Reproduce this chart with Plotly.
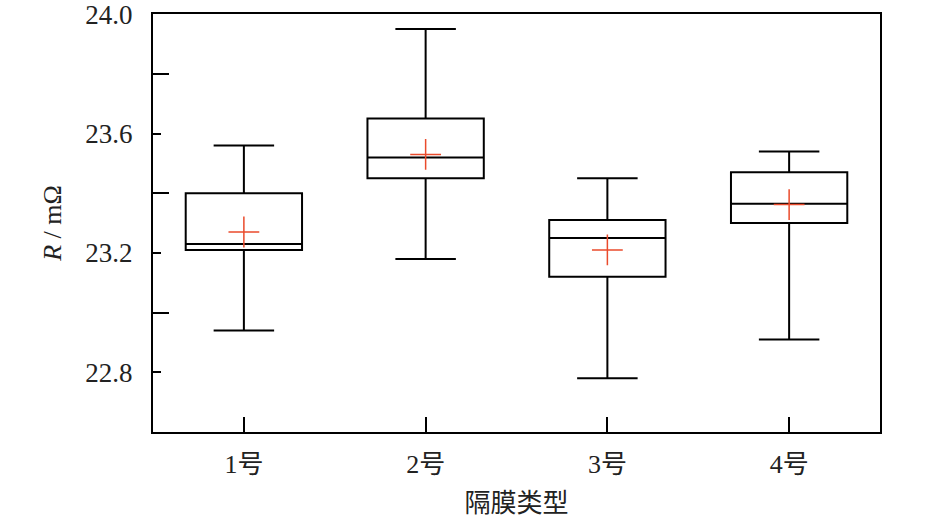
import plotly.graph_objects as go

categories = ["1号", "2号", "3号", "4号"]
upper = [23.56, 23.95, 23.45, 23.54]
q3 = [23.40, 23.65, 23.31, 23.47]
median = [23.23, 23.52, 23.25, 23.365]
q1 = [23.21, 23.45, 23.12, 23.30]
lower = [22.94, 23.18, 22.78, 22.91]
mean = [23.27, 23.53, 23.21, 23.362]

FONT = "'Liberation Serif', 'Noto Sans CJK SC', serif"

fig = go.Figure()
fig.add_trace(go.Box(
    x=categories, q1=q1, median=median, q3=q3,
    lowerfence=lower, upperfence=upper,
    width=0.64, whiskerwidth=0.52,
    line=dict(color="black", width=2),
    fillcolor="rgba(255,255,255,0)",
    boxpoints=False, showlegend=False, hoverinfo="skip",
))
fig.add_trace(go.Scatter(
    x=categories, y=mean, mode="markers",
    marker=dict(symbol="cross-thin", size=22,
                line=dict(color="#ea4b2c", width=1.5)),
    showlegend=False, hoverinfo="skip",
))

fig.update_layout(
    width=939, height=523,
    margin=dict(l=153, r=59, t=14, b=91),
    paper_bgcolor="white", plot_bgcolor="white",
    font=dict(family=FONT, size=27, color="#222"),
)
fig.update_xaxes(
    type="category", range=[-0.5, 3.5], automargin=False,
    showline=True, linecolor="black", linewidth=2, mirror=True,
    ticks="inside", ticklen=15, tickwidth=2, tickcolor="black",
    showgrid=False, zeroline=False, ticklabelstandoff=8,
    tickfont=dict(family=FONT, size=26, color="#222"),
    title=dict(text="隔膜类型", standoff=16,
               font=dict(family=FONT, size=26, color="#222")),
)
fig.update_yaxes(
    range=[22.6, 24.0004], automargin=False,
    tick0=22.8, dtick=0.4, tickformat=".1f",
    ticklabeloverflow="allow",
    showline=True, linecolor="black", linewidth=2, mirror=True,
    ticks="inside", ticklen=8, tickwidth=2, tickcolor="black",
    minor=dict(tick0=22.8, dtick=0.2, ticks="inside", ticklen=16,
               tickwidth=2, tickcolor="black", showgrid=False),
    showgrid=False, zeroline=False, ticklabelstandoff=13,
    tickfont=dict(family=FONT, size=27, color="#222"),
    title=dict(text="<i>R</i> / mΩ", standoff=16,
               font=dict(family=FONT, size=26, color="#222")),
)

fig.write_html("out.html", config={"displayModeBar": False},
               post_script="document.body.style.margin='0';")
